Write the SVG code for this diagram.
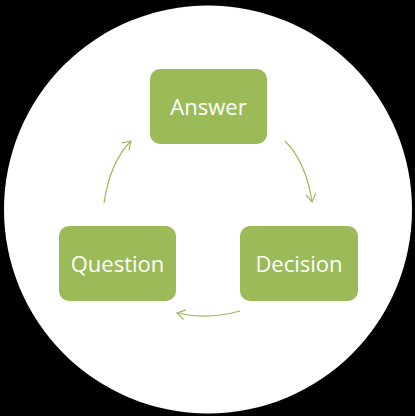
<svg xmlns="http://www.w3.org/2000/svg" width="415" height="416" viewBox="0 0 415 416">
  <style>
    .box { fill: #9bbb59; }
    .label { fill: #ffffff; font-family: "Open Sans", "Liberation Sans", sans-serif; font-size: 22px; text-anchor: middle; }
    .conn { fill: none; stroke: #9bbb59; stroke-width: 1.2; marker-end: url(#arrow); }
  </style>
  <defs>
    <marker id="arrow" viewBox="0 0 12 12" refX="10" refY="6" markerWidth="12" markerHeight="12" markerUnits="userSpaceOnUse" orient="auto">
      <path d="M2,1 L10,6 L2,11" fill="none" stroke="#9bbb59" stroke-width="1.2"/>
    </marker>
  </defs>
  <rect x="0" y="0" width="415" height="416" fill="#000000"/>
  <circle cx="208" cy="209.5" r="204" fill="#ffffff"/>
  <g id="connectors">
    <path class="conn" d="M104,203 Q110,162 131,141"/>
    <path class="conn" d="M285,141 Q306,162 312,202"/>
    <path class="conn" d="M240,311 Q208,320 177,313"/>
  </g>
  <g id="answer">
    <rect class="box" x="150" y="69" width="117" height="75" rx="10" ry="10"/>
    <text class="label" x="208.5" y="114.5">Answer</text>
  </g>
  <g id="question">
    <rect class="box" x="59" y="226" width="117" height="75" rx="10" ry="10"/>
    <text class="label" x="117.5" y="272">Question</text>
  </g>
  <g id="decision">
    <rect class="box" x="240" y="226" width="118" height="75" rx="10" ry="10"/>
    <text class="label" x="299" y="272">Decision</text>
  </g>
</svg>
